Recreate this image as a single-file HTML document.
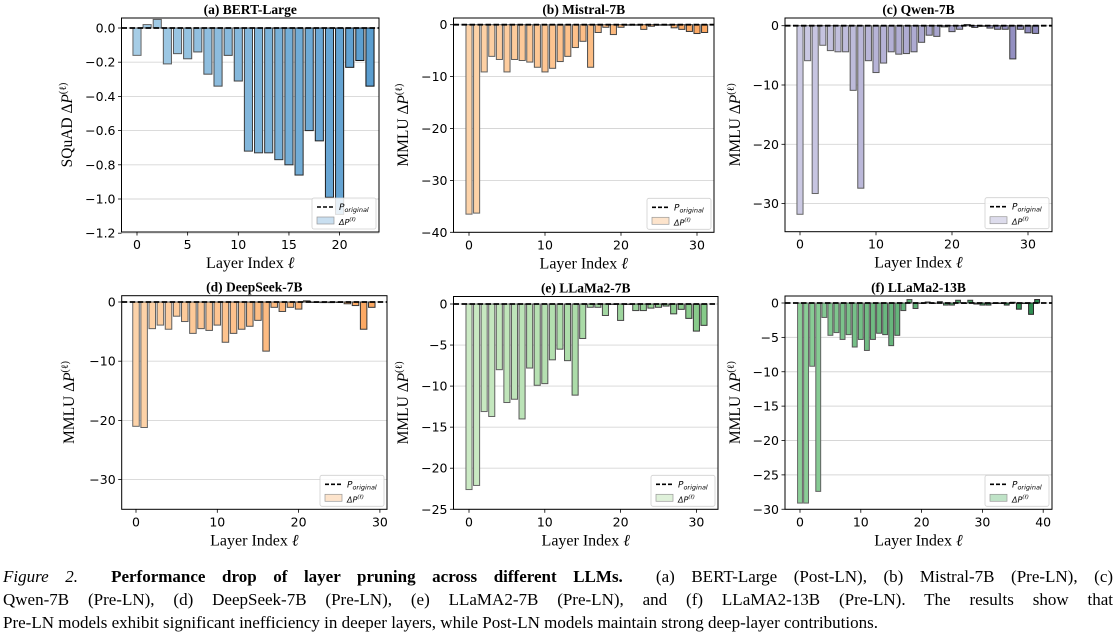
<!DOCTYPE html>
<html><head><meta charset="utf-8">
<style>
body{margin:0;background:#fff;width:1118px;height:640px;overflow:hidden;position:relative;font-family:"Liberation Serif",serif}
svg{position:absolute;left:0;top:0}
.cap{position:absolute;left:3px;width:1110px;font-size:17px;line-height:23px;color:#000;white-space:nowrap}
.j{text-align:justify;text-align-last:justify}
</style></head><body>
<svg id="fig" width="1118" height="560" viewBox="0 0 1118 560"></svg>
<div class="cap j" style="top:565px"><i>Figure 2.</i>&nbsp; <b>Performance drop of layer pruning across different LLMs.</b>&nbsp; (a) BERT-Large (Post-LN), (b) Mistral-7B (Pre-LN), (c)</div>
<div class="cap j" style="top:588px">Qwen-7B (Pre-LN), (d) DeepSeek-7B (Pre-LN), (e) LLaMA2-7B (Pre-LN), and (f) LLaMA2-13B (Pre-LN). The results show that</div>
<div class="cap" style="top:611px">Pre-LN models exhibit significant inefficiency in deeper layers, while Post-LN models maintain strong deep-layer contributions.</div>
<script>
const bertValues=[-0.16,0.02,0.05,-0.21,-0.15,-0.18,-0.14,-0.27,-0.34,-0.16,-0.31,-0.72,-0.73,-0.73,-0.77,-0.80,-0.86,-0.60,-0.66,-0.99,-1.09,-0.23,-0.19,-0.34];
const mistralValues=[-36.5,-36.3,-9.1,-6.1,-6.7,-9.1,-6.7,-6.9,-7.2,-8.2,-9.1,-8.4,-7.1,-6.1,-4.4,-3.2,-8.2,-1.5,-0.5,-1.9,-0.5,-0.1,-0.1,-0.9,-0.3,-0.1,0,-0.6,-0.9,-1.3,-1.7,-1.5];
const qwenValues=[-31.8,-5.9,-28.3,-3.3,-4.2,-4.4,-4.4,-10.9,-27.4,-5.9,-7.9,-6.3,-4.4,-4.8,-4.7,-4.4,-2.8,-1.6,-1.8,-0.2,-1.0,-0.6,0.2,-0.3,-0.1,-0.4,-0.6,-0.6,-5.6,-0.6,-1.2,-1.3];
const deepseekValues=[-21.0,-21.2,-4.5,-3.9,-4.6,-2.4,-3.3,-5.3,-4.5,-4.8,-3.9,-6.8,-5.3,-4.6,-4.1,-3.1,-8.3,-0.9,-1.6,-0.9,-1.2,0.2,-0.05,-0.1,-0.1,0,-0.3,-0.6,-4.6,-0.9];
const llama7Values=[-22.6,-22.1,-13.1,-13.7,-8.0,-12.0,-11.6,-14.0,-7.8,-9.9,-9.7,-6.8,-5.5,-6.9,-11.1,-4.2,-0.4,-0.4,-1.4,0,-2.0,0,-0.8,-0.8,-0.5,-0.4,-0.25,-1.2,-0.65,-1.75,-3.3,-2.6];
const llama13Values=[-29.1,-29.1,-9.2,-27.4,-2.1,-4.7,-4.3,-5.3,-4.6,-6.4,-5.3,-6.9,-5.3,-4.4,-4.6,-6.2,-4.7,-1.1,0.5,-0.8,0,0.15,0,0.2,-0.3,-0.3,0.4,0,0.4,-0.15,-0.3,-0.3,0,0,-0.3,0.1,-0.9,0,-1.65,0.5];
const bertYTicks=[0,-0.2,-0.4,-0.6,-0.8,-1.0,-1.2];
const bertYLabels=["0.0","−0.2","−0.4","−0.6","−0.8","−1.0","−1.2"];
const bertXTicks=[0,5,10,15,20];
const mistralYTicks=[0,-10,-20,-30,-40];
const qwenYTicks=[0,-10,-20,-30];
const deepseekYTicks=[0,-10,-20,-30];
const llama7YTicks=[0,-5,-10,-15,-20,-25];
const llama13YTicks=[0,-5,-10,-15,-20,-25,-30];
const xTicks30=[0,10,20,30];
const xTicks40=[0,10,20,30,40];
const titles=["(a) BERT-Large","(b) Mistral-7B","(c) Qwen-7B","(d) DeepSeek-7B","(e) LLaMa2-7B","(f) LLaMa2-13B"];

const NS="http://www.w3.org/2000/svg";
const svg=document.getElementById('fig');
function mk(tag,attrs,parent,text){const e=document.createElementNS(NS,tag);for(const k in attrs)e.setAttribute(k,attrs[k]);if(text!==undefined)e.textContent=text;(parent||svg).appendChild(e);return e;}
function hex(c){return[parseInt(c.slice(1,3),16),parseInt(c.slice(3,5),16),parseInt(c.slice(5,7),16)];}
function lerp(a,b,t){const A=hex(a),B=hex(b);return'rgb('+A.map((v,i)=>Math.round(v+(B[i]-v)*t)).join(',')+')';}
function fmt(v){return v<0?'−'+Math.abs(v):String(v);}

const panels=[
 {values:bertValues,yTicks:bertYTicks,yLabels:bertYLabels,xTicks:bertXTicks,ylab:"SQuAD",L:121.5,R:379,T:18,B:232,px0:137,pxPer:10.13,py0:28,pyPer:171,c0:"#a6cde6",c1:"#5a9dcf",e0:"#666666",e1:"#111111",leg:"#c9dff0",ylx:72,name:"bert-large"},
 {values:mistralValues,yTicks:mistralYTicks,xTicks:xTicks30,ylab:"MMLU",L:453.5,R:714,T:18,B:232.3,px0:469,pxPer:7.6,py0:24.7,pyPer:5.19,c0:"#fdd3a9",c1:"#fca862",e0:"#666666",e1:"#333333",leg:"#fde4cc",ylx:408,name:"mistral-7b"},
 {values:qwenValues,yTicks:qwenYTicks,xTicks:xTicks30,ylab:"MMLU",L:785,R:1052,T:18,B:231.7,px0:800,pxPer:7.6,py0:25.7,pyPer:5.93,c0:"#cbc9e3",c1:"#8d89bd",e0:"#666666",e1:"#333333",leg:"#dddcec",ylx:740,name:"qwen-7b"},
 {values:deepseekValues,yTicks:deepseekYTicks,xTicks:xTicks30,ylab:"MMLU",L:121.7,R:387,T:295.7,B:509.3,px0:136,pxPer:8.13,py0:302,pyPer:5.92,c0:"#fdd3a9",c1:"#fca862",e0:"#666666",e1:"#333333",leg:"#fde4cc",ylx:74,name:"deepseek-7b"},
 {values:llama7Values,yTicks:llama7YTicks,xTicks:xTicks30,ylab:"MMLU",L:453.5,R:718,T:296.5,B:509.3,px0:469,pxPer:7.58,py0:304,pyPer:8.21,c0:"#cbeac4",c1:"#86ca89",e0:"#666666",e1:"#333333",leg:"#dff1da",ylx:408,name:"llama2-7b"},
 {values:llama13Values,yTicks:llama13YTicks,xTicks:xTicks40,ylab:"MMLU",L:785,R:1052,T:296,B:509.3,px0:800,pxPer:6.08,py0:303,pyPer:6.875,c0:"#8ccf98",c1:"#2e8d51",e0:"#666666",e1:"#222222",leg:"#bfe3c7",ylx:740,name:"llama2-13b"}
];

panels.forEach((p,pi)=>{
 const g=mk('g',{});
 
 
 const xs=i=>p.px0+i*p.pxPer;
 const ys=v=>p.py0-v*p.pyPer;
 const cid='clip'+pi;
 const cp=mk('clipPath',{id:cid},g);mk('rect',{x:p.L,y:p.T,width:p.R-p.L,height:p.B-p.T},cp);
 p.yTicks.forEach((t,k)=>{
  const y=ys(t);
  const gl=mk('line',{x1:p.L,x2:p.R,y1:y,y2:y,stroke:'#d6d6d6','stroke-width':0.9},g);
  
  
  mk('line',{x1:p.L-3.5,x2:p.L,y1:y,y2:y,stroke:'#000','stroke-width':0.8},g);
  const lab=p.yLabels?p.yLabels[k]:fmt(t);
  const tl=mk('text',{x:p.L-6,y:y+4.5,'text-anchor':'end','font-size':12.5,'font-family':'DejaVu Sans, sans-serif'},g,lab);
  
  
 });
 p.xTicks.forEach(t=>{
  const x=xs(t);
  mk('line',{x1:x,x2:x,y1:p.B,y2:p.B+3.5,stroke:'#000','stroke-width':0.8},g);
  const tl=mk('text',{x:x,y:p.B+17,'text-anchor':'middle','font-size':12.5,'font-family':'DejaVu Sans, sans-serif'},g,String(t));
  
  
 });
 const bg=mk('g',{'clip-path':'url(#'+cid+')'},g);
 const n=p.values.length, w=p.pxPer*0.8;
 p.values.forEach((v,i)=>{
  const t=i/(n-1);
  const y0=ys(0),y1=ys(v);
  const r=mk('rect',{x:xs(i)-w/2,y:Math.min(y0,y1),width:w,height:Math.max(0.5,Math.abs(y1-y0)),fill:lerp(p.c0,p.c1,t),stroke:lerp(p.e0,p.e1,t),'stroke-width':1},bg);
  
  
 });
 const dl=mk('line',{x1:p.L,x2:p.R,y1:ys(0),y2:ys(0),stroke:'#000','stroke-width':1.8,'stroke-dasharray':'5.5,2.5'},g);
 
 
 const sp=mk('rect',{x:p.L,y:p.T,width:p.R-p.L,height:p.B-p.T,fill:'none',stroke:'#000','stroke-width':1},g);
 
 
 const ti=mk('text',{x:(p.L+p.R)/2,y:p.T-4,'text-anchor':'middle','font-size':13.5,'font-weight':'bold','font-family':'Liberation Serif, serif'},g,titles[pi]);
 
 
 const xl=mk('text',{x:(p.L+p.R)/2,y:p.B+36,'text-anchor':'middle','font-size':16,'font-family':'Liberation Serif, serif'},g);
 
 
 mk('tspan',{},xl,'Layer Index ');mk('tspan',{'font-style':'italic'},xl,'ℓ');
 const cy=(p.T+p.B)/2;
 const yl=mk('text',{x:p.ylx,y:cy,'text-anchor':'middle','font-size':15.5,'font-family':'Liberation Serif, serif',transform:'rotate(-90 '+p.ylx+' '+cy+')'},g);
 
 
 mk('tspan',{},yl,p.ylab+' Δ');mk('tspan',{'font-style':'italic'},yl,'P');mk('tspan',{'font-size':10,dy:-6},yl,'(ℓ)');
 const lw=64,lh=31,lx=p.R-lw-3,ly=p.B-lh-3;
 const lg=mk('g',{},g);
 
 
 mk('rect',{x:lx,y:ly,width:lw,height:lh,rx:2,fill:'rgba(255,255,255,0.85)',stroke:'#d0d0d0','stroke-width':0.8},lg);
 mk('line',{x1:lx+5,x2:lx+22,y1:ly+9,y2:ly+9,stroke:'#000','stroke-width':1.6,'stroke-dasharray':'4,2'},lg);
 const t1=mk('text',{x:lx+27,y:ly+12,'font-size':9,'font-style':'italic','font-family':'DejaVu Sans, sans-serif'},lg);
 mk('tspan',{},t1,'P');mk('tspan',{'font-size':6.5,dy:2},t1,'original');
 mk('rect',{x:lx+5,y:ly+19,width:17,height:7,fill:p.leg,stroke:'#999','stroke-width':0.7},lg);
 const t2=mk('text',{x:lx+27,y:ly+27,'font-size':8,'font-style':'italic','font-family':'DejaVu Sans, sans-serif'},lg);
 mk('tspan',{},t2,'ΔP');mk('tspan',{'font-size':5.5,dy:-4},t2,'(ℓ)');
});
</script>
</body></html>
